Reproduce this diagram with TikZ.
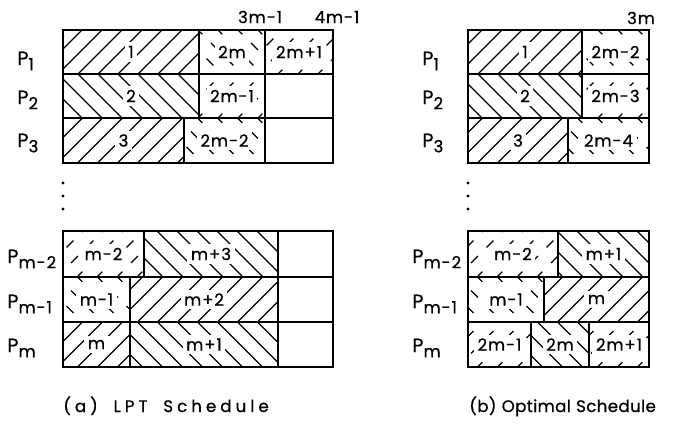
\documentclass[tikz,border=0pt]{standalone}
\usepackage{fontspec}
\setmainfont{Poppins}[LetterSpace=5, FakeBold=0.6]

\tikzset{
  boxline/.style={line width=1.3pt},
  hatchfull/.style={line width=0.75pt},
  hatchbroken/.style={line width=0.75pt, dash pattern=on 5.5pt off 7pt},
  joblabel/.style={fill=white, inner sep=2pt, font=\fontsize{9.5}{10}\selectfont},
  proclabel/.style={inner sep=0pt, font=\fontsize{11}{12}\selectfont},
  timelabel/.style={inner sep=0pt, font=\fontsize{9.5}{10}\selectfont},
  caption/.style={inner sep=0pt, font=\fontsize{9.5}{10}\selectfont},
}

% box of one job: name, x1, y1, x2, y2, direction (1 = /, -1 = \), hatch style, text
\newcommand{\jobbox}[8]{%
  \begin{scope}
    \clip (#2,#3) rectangle (#4,#5);
    \foreach \c in {-100,-80,...,760}
      \draw[#7] ({\c-40},{(#3+#5)/2+40*#6}) -- ({\c+40},{(#3+#5)/2-40*#6});
  \end{scope}
  \node[joblabel] (#1) at ({(#2+#4)/2},{(#3+#5)/2}) {#8};
  \draw[boxline] (#2,#3) rectangle (#4,#5);
}
\newcommand{\procsub}[1]{P\raisebox{-0.5ex}{\fontsize{9.5}{10}\selectfont #1}}

\begin{document}
\begin{tikzpicture}[x=0.02cm,y=-0.02cm]
  \useasboundingbox (0,0) rectangle (674,424);

  % (a) LPT schedule
  \jobbox{a1}{63}{30}{199}{74}{1}{hatchfull}{1}
  \jobbox{a2m}{199}{30}{265}{74}{-1}{hatchbroken}{2m}
  \jobbox{a2mp1}{265}{30}{333}{74}{1}{hatchbroken}{2m+1}
  \jobbox{a2}{63}{74}{199}{118}{-1}{hatchfull}{2}
  \jobbox{a2mm1}{199}{74}{265}{118}{1}{hatchbroken}{2m-1}
  \jobbox{a3}{63}{118}{184}{163}{1}{hatchfull}{3}
  \jobbox{a2mm2}{184}{118}{265}{163}{-1}{hatchbroken}{2m-2}
  \draw[boxline] (265,74) rectangle (333,118) (265,118) rectangle (333,163);
  \jobbox{amm2}{63}{231}{144}{277}{1}{hatchbroken}{m-2}
  \jobbox{amp3}{144}{231}{278}{277}{-1}{hatchfull}{m+3}
  \jobbox{amm1}{63}{277}{130}{322}{-1}{hatchbroken}{m-1}
  \jobbox{amp2}{130}{277}{278}{322}{1}{hatchfull}{m+2}
  \jobbox{am}{63}{322}{130}{367}{1}{hatchfull}{m}
  \jobbox{amp1}{130}{322}{278}{367}{-1}{hatchfull}{m+1}
  \draw[boxline] (278,231) rectangle (333,277) (278,277) rectangle (333,322)
    (278,322) rectangle (333,367);

  % (b) optimal schedule
  \jobbox{b1}{468}{30}{582}{74}{1}{hatchfull}{1}
  \jobbox{b2mm2}{582}{30}{649}{74}{-1}{hatchbroken}{2m-2}
  \jobbox{b2}{468}{74}{582}{118}{-1}{hatchfull}{2}
  \jobbox{b2mm3}{582}{74}{649}{118}{1}{hatchbroken}{2m-3}
  \jobbox{b3}{468}{118}{568}{163}{1}{hatchfull}{3}
  \jobbox{b2mm4}{568}{118}{649}{163}{-1}{hatchbroken}{2m-4}
  \jobbox{bmm2}{468}{231}{558}{277}{1}{hatchbroken}{m-2}
  \jobbox{bmp1}{558}{231}{649}{277}{-1}{hatchfull}{m+1}
  \jobbox{bmm1}{468}{277}{544}{322}{-1}{hatchbroken}{m-1}
  \jobbox{bm}{544}{277}{649}{322}{1}{hatchfull}{m}
  \jobbox{b2mm1}{468}{322}{531}{367}{1}{hatchbroken}{2m-1}
  \jobbox{b2m}{531}{322}{589}{367}{-1}{hatchfull}{2m}
  \jobbox{b2mp1}{589}{322}{649}{367}{1}{hatchbroken}{2m+1}

  % processors and dots
  \foreach \ox/\ch in {17/a,422/b} {
    \foreach \yb/\sub/\n in {65/1/1,104/2/2,147/3/3}
      \node[proclabel, anchor=base west] (P\ch\n) at (\ox,\yb) {\procsub{\sub}};
    \foreach \yb/\sub/\n in {263/m-2/mm2,308/m-1/mm1,352/m/m}
      \node[proclabel, anchor=base west] (P\ch\n) at (\ox-10,\yb) {\procsub{\sub}};
    \foreach \yd in {183,196,209}
      \fill (\ox+46,\yd) circle (1.6);
  }

  % time marks
  \node[timelabel] (t3mm1) at (260,17) {3m-1};
  \node[timelabel] (t4mm1) at (337,17) {4m-1};
  \node[timelabel] (t3m) at (641,18) {3m};

  \node[caption, anchor=base west] (capa) at (63,412)
    {\addfontfeatures{LetterSpace=24}(a)\hspace{9pt}LPT\hspace{9pt}Schedule};
  \node[caption, anchor=base west] (capb) at (469,412)
    {\addfontfeatures{LetterSpace=2}(b)\hspace{3pt}Optimal\hspace{3pt}Schedule};
\end{tikzpicture}
\end{document}
